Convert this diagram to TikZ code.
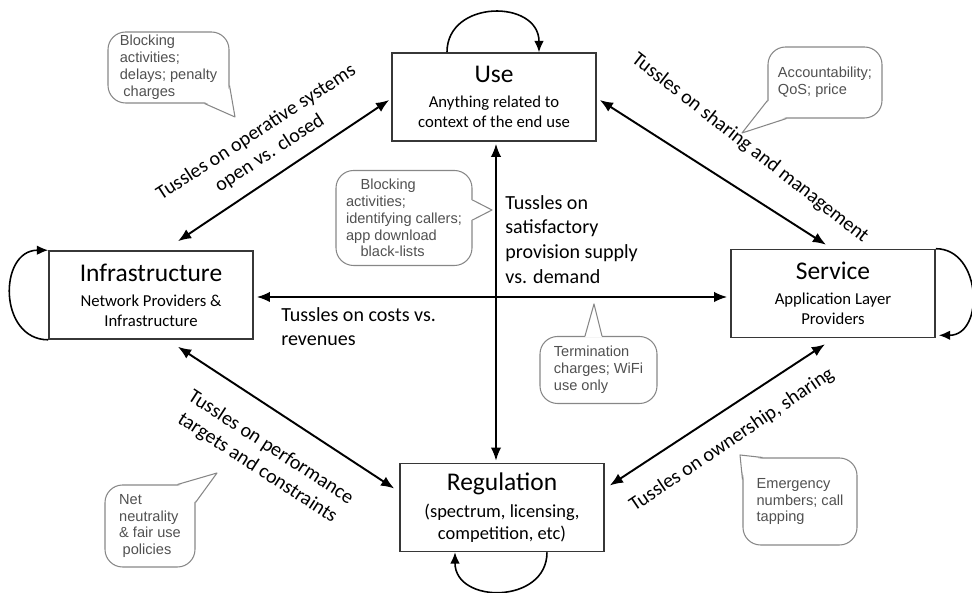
\documentclass[tikz,border=0pt]{standalone}
\usepackage{fontspec}
\setmainfont{Carlito}
\newfontfamily\bubblefont{Liberation Sans}
\usetikzlibrary{arrows.meta, positioning, calc}
\definecolor{boxgray}{RGB}{55, 55, 55}
\definecolor{bubblegray}{RGB}{135, 135, 135}
\definecolor{bubbletext}{RGB}{80, 80, 80}
\tikzset{
  actor/.style={draw=boxgray, line width=0.9pt, minimum width=40.8mm, minimum height=17.6mm, align=center, inner sep=2pt, font=\fontsize{9.5}{11.3}\selectfont},
  tussle/.style={{Latex[length=7.5pt,width=6pt]}-{Latex[length=7.5pt,width=6pt]}, line width=1.1pt},
  selfloop/.style={-{Latex[length=6.5pt,width=5.5pt]}, line width=0.9pt},
  tusslelabel/.style={font=\fontsize{11.4}{14}\selectfont, align=center, inner sep=0pt},
  bubble/.style={draw=bubblegray, line width=0.6pt, rounded corners=10pt, font=\bubblefont\fontsize{8.3}{9.6}\selectfont, text=bubbletext, align=left, inner sep=0pt},
  pointer/.style={draw=bubblegray, line width=0.6pt, line join=round}
}

\begin{document}
\begin{tikzpicture}[x=0.2mm, y=-0.2mm]
  \useasboundingbox (0,0) rectangle (972,593);

  % Stakeholders
  \node[actor] (use) at (494,97) {{\fontsize{14.5}{17}\selectfont Use}\\[3pt]Anything related to\\context of the end use};
  \node[actor] (infra) at (151,295) {{\fontsize{14.5}{17}\selectfont Infrastructure}\\[3pt]Network Providers \&\\Infrastructure};
  \node[actor] (serv) at (833,293.5) {{\fontsize{14.5}{17}\selectfont Service}\\[3pt]Application Layer\\Providers};
  \node[actor, font=\fontsize{10.5}{12.5}\selectfont] (reg) at (502,507.5) {{\fontsize{14.5}{17}\selectfont Regulation}\\[3pt](spectrum, licensing,\\competition, etc)};

  % Self loops
  \draw[selfloop] ($(use.north)+(-47,0)$) .. controls +(0,-53) and +(0,-53) .. ($(use.north)+(45,0)$);
  \draw[selfloop] (infra.south west) .. controls +(-50,0) and +(-50,0) .. (infra.north west);
  \draw[selfloop] (serv.north east) .. controls +(46,0) and +(46,0) .. ($(serv.south east)+(3,-3)$);
  \draw[selfloop] ($(reg.south)+(45,0)$) .. controls +(0,52) and +(0,52) .. ($(reg.south)+(-47,0)$);

  % Tussles
  \draw[tussle] ($(infra.north)+(27,-9)$) -- ($(use.west)+(-2,3)$);
  \draw[tussle] ($(use.east)+(3,3)$) -- ($(serv.north)+(-7,-4)$);
  \draw[tussle] ($(infra.east)+(3,2)$) -- ($(infra.east -| serv.west)+(-3,2)$);
  \draw[tussle] ($(use.south)+(2,2)$) -- ($(use.south |- reg.north)+(2,-2)$);
  \draw[tussle] ($(infra.south)+(27,7)$) -- ($(reg.west)+(-5,-19)$);
  \draw[tussle] ($(serv.south)+(-8,6)$) -- ($(reg.east)+(5,-22)$);

  \node[tusslelabel, rotate=33] (opsys) at (263,143) {Tussles on operative systems\\open vs. closed};
  \node[tusslelabel, rotate=-38] (sharing) at (750,148) {Tussles on sharing and management};
  \node[tusslelabel, anchor=north west, align=left] (costs) at (281,307) {Tussles on costs vs.\\revenues};
  \node[tusslelabel, anchor=north west, align=left] (supply) at (505,195) {Tussles on\\satisfactory\\provision supply\\vs. demand};
  \node[tusslelabel, rotate=-33] (perf) at (264,458) {Tussles on performance\\targets and constraints};
  \node[tusslelabel, rotate=34] (owner) at (732,440) {Tussles on ownership, sharing};

  % Examples
  \node[bubble, minimum width=24.2mm, minimum height=14.2mm] (delays) at (168.5,67.5) {Blocking\\activities;\\delays; penalty\\\hspace*{2pt}charges};
  \coordinate (delaystip) at (235,117);
  \fill[white] ($(delays.south east)+(-25,-1.5)$) -- (delaystip) -- ($(delays.south east)+(-1.5,-18)$) -- cycle;
  \draw[pointer] ($(delays.south east)+(-25,0)$) -- (delaystip) -- ($(delays.south east)+(0,-18)$);

  \node[bubble, minimum width=22.8mm, minimum height=14.2mm] (account) at (825,82.5) {Accountability;\\QoS; price};
  \coordinate (accounttip) at (742,133);
  \fill[white] ($(account.south west)+(1.5,-18)$) -- (accounttip) -- ($(account.south west)+(19,-1.5)$) -- cycle;
  \draw[pointer] ($(account.south west)+(0,-18)$) -- (accounttip) -- ($(account.south west)+(19,0)$);

  \node[bubble, minimum width=27.2mm, minimum height=19mm] (blocking) at (404,218) {\hspace*{1em}Blocking\\activities;\\identifying callers;\\app download\\\hspace*{1em}black-lists};
  \coordinate (blockingtip) at (492,210);
  \fill[white] ($(blocking.east)+(-1.5,-18)$) -- (blockingtip) -- ($(blocking.east)+(-1.5,2)$) -- cycle;
  \draw[pointer] ($(blocking.east)+(0,-18)$) -- (blockingtip) -- ($(blocking.east)+(0,2)$);

  \node[bubble, minimum width=23.4mm, minimum height=13.4mm] (termination) at (598.5,370) {Termination\\charges; WiFi\\use only};
  \coordinate (terminationtip) at (594,304);
  \fill[white] ($(termination.north)+(-13.5,1.5)$) -- (terminationtip) -- ($(termination.north)+(3.5,1.5)$) -- cycle;
  \draw[pointer] ($(termination.north)+(-13.5,0)$) -- (terminationtip) -- ($(termination.north)+(3.5,0)$);

  \node[bubble, minimum width=18mm, minimum height=16.4mm] (neutrality) at (150,526) {Net\\neutrality\\\& fair use\\\hspace*{2pt}policies};
  \coordinate (neutralitytip) at (217,473);
  \fill[white] ($(neutrality.north east)+(-18,1.5)$) -- (neutralitytip) -- ($(neutrality.north east)+(-1.5,18)$) -- cycle;
  \draw[pointer] ($(neutrality.north east)+(-18,0)$) -- (neutralitytip) -- ($(neutrality.north east)+(0,18)$);

  \node[bubble, minimum width=22.8mm, minimum height=17.4mm] (emergency) at (800,501.5) {Emergency\\numbers; call\\tapping};
  \coordinate (emergencytip) at (740,455);
  \fill[white] ($(emergency.north west)+(20,1.5)$) -- (emergencytip) -- ($(emergency.north west)+(1.5,22)$) -- cycle;
  \draw[pointer] ($(emergency.north west)+(20,0)$) -- (emergencytip) -- ($(emergency.north west)+(0,22)$);
\end{tikzpicture}
\end{document}
